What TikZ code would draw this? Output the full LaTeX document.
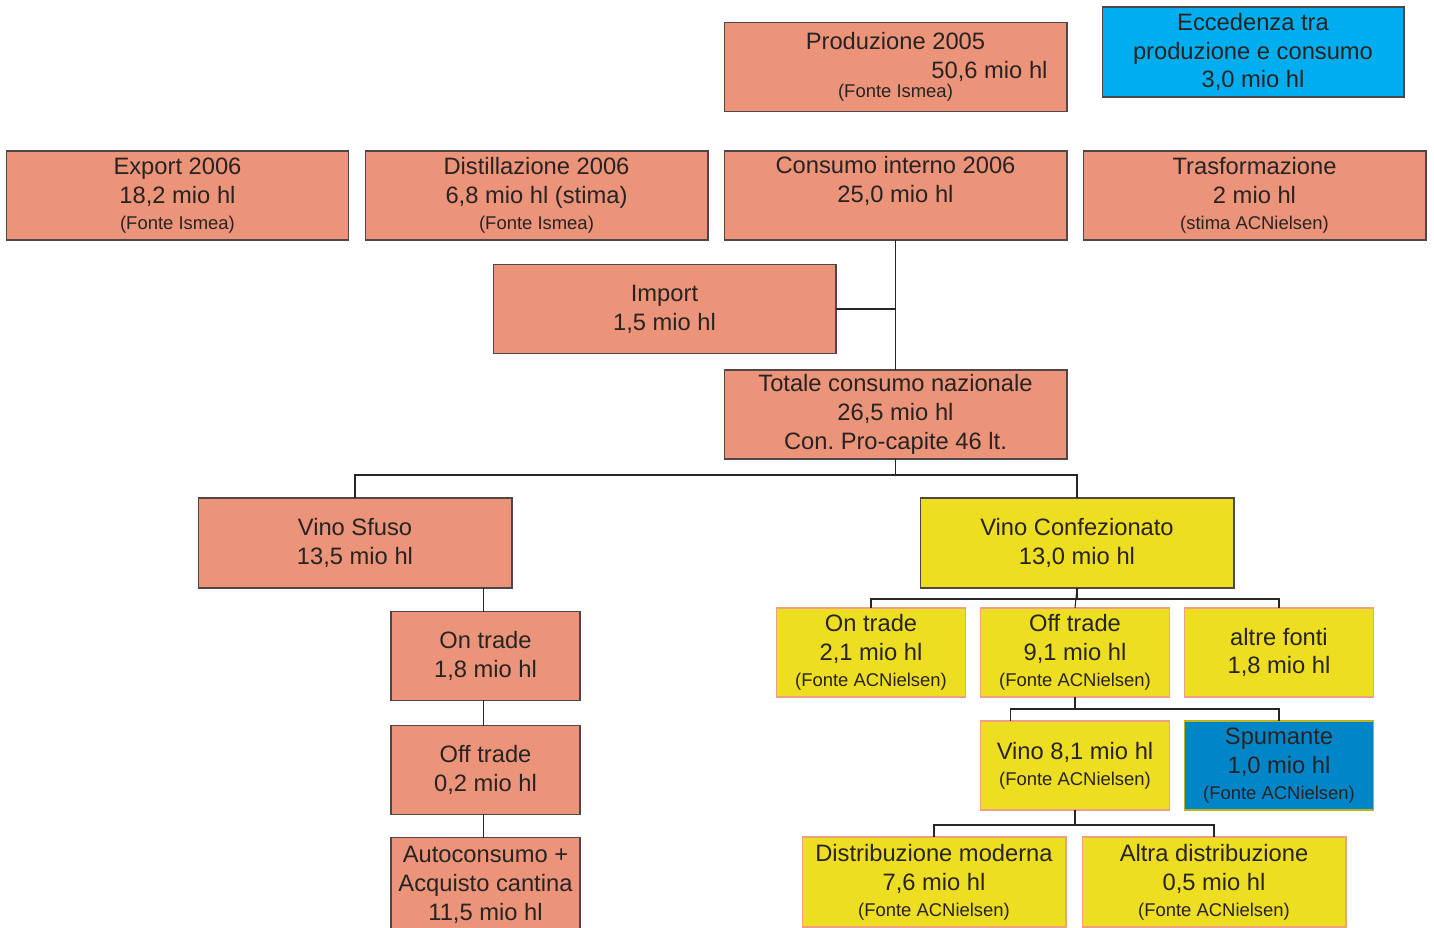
\documentclass[tikz,border=0pt]{standalone}
\usepackage{fontspec}
\setmainfont{Liberation Sans}
\frenchspacing
\definecolor{salmon}{RGB}{235,148,122}
\definecolor{yellowfill}{RGB}{238,222,33}
\definecolor{yellowline}{RGB}{240,160,130}
\definecolor{cyanfill}{RGB}{0,174,239}
\definecolor{bluefill}{RGB}{0,134,200}
\definecolor{boxline}{RGB}{80,70,70}
\definecolor{inktext}{RGB}{40,35,35}
\newcommand\fonte[1]{{\fontsize{10.5}{12}\selectfont #1}}

\begin{document}
\begin{tikzpicture}[x=0.02cm,y=-0.02cm,
  every node/.style={inner sep=0pt, outer sep=0pt, align=center, text=inktext,
    font=\fontsize{13.5}{16.4}\selectfont},
  salmonbox/.style={draw=boxline, fill=salmon, line width=0.6pt},
  yellowbox/.style={draw=yellowline, fill=yellowfill, line width=0.6pt},
  wide/.style={minimum width=6.86cm, minimum height=1.78cm},
  small/.style={minimum width=3.78cm, minimum height=1.78cm},
  link/.style={draw=black!85, line width=0.6pt}]
\useasboundingbox (0,0) rectangle (1434,928);

% top row
\node[salmonbox, wide] (prod) at (895.5,67) {Produzione 2005\\\hspace*{3.76cm}50,6 mio hl\\[-5.7pt]\fonte{(Fonte Ismea)}};
\node[draw=boxline, fill=cyanfill, line width=0.6pt, minimum width=6.04cm, minimum height=1.8cm] (ecc) at (1253,52) {Eccedenza tra\\produzione e consumo\\3,0 mio hl};

\node[salmonbox, wide] (export) at (177.5,195.5) {Export 2006\\18,2 mio hl\\[-1.7pt]\fonte{(Fonte Ismea)}};
\node[salmonbox, wide] (distill) at (536.5,195.5) {Distillazione 2006\\6,8 mio hl (stima)\\[-1.7pt]\fonte{(Fonte Ismea)}};
\node[salmonbox, wide] (consumo) at (895.5,195.5) {Consumo interno 2006\\25,0 mio hl\\[-3.4pt]\strut};
\node[salmonbox, wide] (trasf) at (1254.5,195.5) {Trasformazione\\2 mio hl\\[-1.7pt]\fonte{(stima ACNielsen)}};

\node[salmonbox, wide] (import) at (664.5,309) {Import\\1,5 mio hl};
\node[salmonbox, wide] (totale) at (895.5,414.5) {Totale consumo nazionale\\26,5 mio hl\\Con. Pro-capite 46 lt.};

% vino sfuso
\node[salmonbox, minimum width=6.28cm, minimum height=1.8cm] (sfuso) at (355,543) {Vino Sfuso\\13,5 mio hl};
\node[salmonbox, small] (ontradeS) at (485.5,656) {On trade\\1,8 mio hl};
\node[salmonbox, small] (offtradeS) at (485.5,770) {Off trade\\0,2 mio hl};
\node[salmonbox, minimum width=3.78cm, minimum height=1.9cm] (autocons) at (485.5,885) {Autoconsumo +\\Acquisto cantina\\11,5 mio hl};

% vino confezionato
\node[draw=boxline, fill=yellowfill, line width=0.6pt, minimum width=6.28cm, minimum height=1.8cm] (confez) at (1077,543) {Vino Confezionato\\13,0 mio hl};
\node[yellowbox, small] (ontradeC) at (871,652.5) {On trade\\2,1 mio hl\\[-1.7pt]\fonte{(Fonte ACNielsen)}};
\node[yellowbox, small] (offtradeC) at (1075,652.5) {Off trade\\9,1 mio hl\\[-1.7pt]\fonte{(Fonte ACNielsen)}};
\node[yellowbox, small] (altre) at (1279,652.5) {altre fonti\\1,8 mio hl};
\node[yellowbox, small] (vino) at (1075,765.5) {Vino 8,1 mio hl\\[-1.7pt]\fonte{(Fonte ACNielsen)}};
\node[draw=yellowfill!80!black, fill=bluefill, line width=0.6pt, small] (spumante) at (1279,765.5) {Spumante\\1,0 mio hl\\[-1.7pt]\fonte{(Fonte ACNielsen)}};
\node[yellowbox, minimum width=5.28cm, minimum height=1.8cm] (distmod) at (934,882) {Distribuzione moderna\\7,6 mio hl\\[-1.7pt]\fonte{(Fonte ACNielsen)}};
\node[yellowbox, minimum width=5.28cm, minimum height=1.8cm] (altradist) at (1214,882) {Altra distribuzione\\0,5 mio hl\\[-1.7pt]\fonte{(Fonte ACNielsen)}};

% connectors
\draw[link] (consumo.south) -- (totale.north);
\draw[link] (import.east) -- (import.east -| consumo.south);
\draw[link] (totale.south) -- ++(0,16) -| (sfuso.north);
\draw[link] (totale.south) -- ++(0,16) -| (confez.north);
\draw[link] ([xshift=-0.04cm]sfuso.south -| ontradeS.north) -- ([xshift=-0.04cm]ontradeS.north);
\draw[link] ([xshift=-0.04cm]ontradeS.south) -- ([xshift=-0.04cm]offtradeS.north);
\draw[link] ([xshift=-0.04cm]offtradeS.south) -- ([xshift=-0.04cm]autocons.north);
\draw[link] (confez.south) -- ++(0,11) -| (ontradeC.north);
\draw[link] (confez.south) -- ++(0,11) -| (altre.north);
\draw[link] (confez.south) -- (offtradeC.north);
\draw[link] (offtradeC.south) -- ++(0,12) -| ([xshift=0.6cm]vino.north west);
\draw[link] (offtradeC.south) -- ++(0,12) -| (spumante.north);
\draw[link] (vino.south) -- ++(0,15) -| (distmod.north);
\draw[link] (vino.south) -- ++(0,15) -| (altradist.north);
\end{tikzpicture}
\end{document}
